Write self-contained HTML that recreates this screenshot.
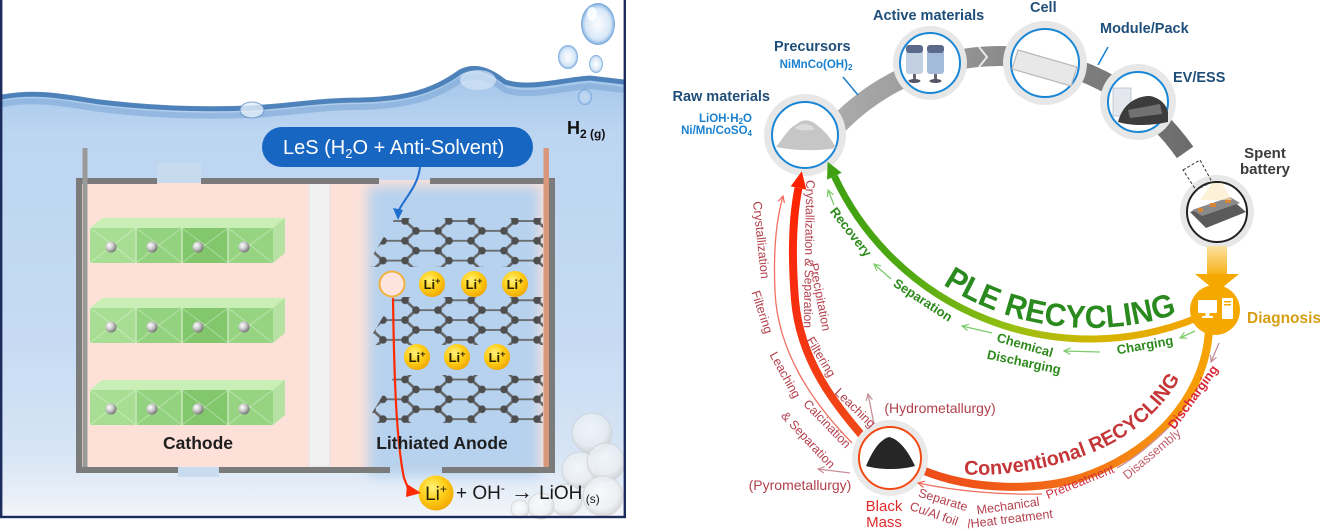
<!DOCTYPE html>
<html><head><meta charset="utf-8"><style>
html,body{margin:0;padding:0;background:#fff;}
svg{display:block;}
</style></head><body>
<svg width="1320" height="531" viewBox="0 0 1320 531" xmlns="http://www.w3.org/2000/svg" font-family="'Liberation Sans', Arial, sans-serif">
<defs>
  <linearGradient id="wg" x1="0" y1="80" x2="0" y2="517" gradientUnits="userSpaceOnUse">
    <stop offset="0" stop-color="#a6c7ea"/>
    <stop offset="0.12" stop-color="#bcd5f1"/>
    <stop offset="0.6" stop-color="#c6dbf3"/>
    <stop offset="0.86" stop-color="#d7e5f5"/>
    <stop offset="1" stop-color="#f3f5f9"/>
  </linearGradient>
  <radialGradient id="ball" cx="0.35" cy="0.35" r="0.7">
    <stop offset="0" stop-color="#ffffff"/>
    <stop offset="0.5" stop-color="#c8c8c8"/>
    <stop offset="1" stop-color="#6e6e6e"/>
  </radialGradient>
  <radialGradient id="li" cx="0.4" cy="0.35" r="0.7">
    <stop offset="0" stop-color="#fff27a"/>
    <stop offset="0.5" stop-color="#ffd01a"/>
    <stop offset="1" stop-color="#f0a400"/>
  </radialGradient>
  <radialGradient id="bub" cx="0.5" cy="0.5" r="0.5">
    <stop offset="0" stop-color="#eaf3fc" stop-opacity="0.3"/>
    <stop offset="0.75" stop-color="#b9d5f2" stop-opacity="0.6"/>
    <stop offset="1" stop-color="#5d97d4" stop-opacity="0.9"/>
  </radialGradient>
  <radialGradient id="wbub" cx="0.45" cy="0.4" r="0.6">
    <stop offset="0" stop-color="#ffffff" stop-opacity="0.85"/>
    <stop offset="0.7" stop-color="#f0f0f0" stop-opacity="0.75"/>
    <stop offset="1" stop-color="#c8c8c8" stop-opacity="0.85"/>
  </radialGradient>
  <radialGradient id="atom" cx="0.4" cy="0.4" r="0.6">
    <stop offset="0" stop-color="#8a8a8a"/>
    <stop offset="1" stop-color="#3c3c3c"/>
  </radialGradient>
  <filter id="blur6" x="-30%" y="-30%" width="160%" height="160%"><feGaussianBlur stdDeviation="6"/></filter>
  <pattern id="hex" patternUnits="userSpaceOnUse" width="66" height="38.1" patternTransform="translate(372,221) scale(1,0.52)">
    <path d="M0,19.05 L11,0 L33,0 L44,19.05 L33,38.1 L11,38.1 Z M44,19.05 L66,19.05" stroke="#666" stroke-width="3.4" fill="none"/>
    <g fill="#4e4e4e">
      <ellipse cx="0" cy="19.05" rx="3.8" ry="7.3"/>
      <ellipse cx="11" cy="0" rx="3.8" ry="7.3"/>
      <ellipse cx="33" cy="0" rx="3.8" ry="7.3"/>
      <ellipse cx="44" cy="19.05" rx="3.8" ry="7.3"/>
      <ellipse cx="33" cy="38.1" rx="3.8" ry="7.3"/>
      <ellipse cx="11" cy="38.1" rx="3.8" ry="7.3"/>
      <ellipse cx="66" cy="19.05" rx="3.8" ry="7.3"/>
    </g>
  </pattern>
  <g id="crow">
    <polygon points="0,10 12,0 195,0 183,10" fill="#c9efb6"/>
    <rect x="0" y="10" width="46" height="35" fill="#a8de94"/>
    <rect x="46" y="10" width="46" height="35" fill="#93d27e"/>
    <rect x="92" y="10" width="46" height="35" fill="#82c76c"/>
    <rect x="138" y="10" width="45" height="35" fill="#96d482"/>
    <g stroke="#ffffff" stroke-opacity="0.35" fill="none" stroke-width="1">
      <polyline points="0,10 23,27 46,10"/><polyline points="0,45 23,27 46,45"/>
      <polyline points="46,10 69,27 92,10"/><polyline points="46,45 69,27 92,45"/>
      <polyline points="92,10 115,27 138,10"/><polyline points="92,45 115,27 138,45"/>
      <polyline points="138,10 160,27 183,10"/><polyline points="138,45 160,27 183,45"/>
    </g>
    <g stroke="#c8e9b8" stroke-width="1.5">
      <line x1="46" y1="10" x2="46" y2="45"/><line x1="92" y1="10" x2="92" y2="45"/><line x1="138" y1="10" x2="138" y2="45"/>
    </g>
    <polygon points="183,10 195,0 195,35 183,45" fill="#b5e2a2"/>
    <circle cx="21" cy="29" r="5.5" fill="url(#ball)"/>
    <circle cx="62" cy="29" r="5.5" fill="url(#ball)"/>
    <circle cx="108" cy="29" r="5.5" fill="url(#ball)"/>
    <circle cx="154" cy="29" r="5.5" fill="url(#ball)"/>
  </g>
  <linearGradient id="band" x1="830" y1="0" x2="1190" y2="0" gradientUnits="userSpaceOnUse">
    <stop offset="0" stop-color="#acacac"/>
    <stop offset="0.5" stop-color="#8a8a8a"/>
    <stop offset="1" stop-color="#6c6c6c"/>
  </linearGradient>
  <linearGradient id="gg" x1="1195" y1="0" x2="830" y2="0" gradientUnits="userSpaceOnUse">
    <stop offset="0" stop-color="#f5a400"/>
    <stop offset="0.25" stop-color="#d6b400"/>
    <stop offset="0.5" stop-color="#98c012"/>
    <stop offset="0.78" stop-color="#52aa12"/>
    <stop offset="1" stop-color="#3ea012"/>
  </linearGradient>
  <linearGradient id="og" x1="1210" y1="330" x2="920" y2="470" gradientUnits="userSpaceOnUse">
    <stop offset="0" stop-color="#f6a600"/>
    <stop offset="0.35" stop-color="#f58a10"/>
    <stop offset="0.7" stop-color="#f26418"/>
    <stop offset="1" stop-color="#ee4a18"/>
  </linearGradient>
  <linearGradient id="rg" x1="0" y1="440" x2="0" y2="170" gradientUnits="userSpaceOnUse">
    <stop offset="0" stop-color="#f04a18"/>
    <stop offset="0.5" stop-color="#f62e10"/>
    <stop offset="1" stop-color="#ff2200"/>
  </linearGradient>
  <linearGradient id="arr" x1="0" y1="245" x2="0" y2="291" gradientUnits="userSpaceOnUse">
    <stop offset="0" stop-color="#fbe3a8"/>
    <stop offset="0.6" stop-color="#f7b520"/>
    <stop offset="1" stop-color="#f5a800"/>
  </linearGradient>
  <marker id="mg" viewBox="0 0 10 10" refX="9" refY="5" markerWidth="8" markerHeight="8" orient="auto" markerUnits="userSpaceOnUse"><path d="M1,1 L9,5 L1,9" fill="none" stroke="#7ccc6c" stroke-width="1.5"/></marker>
  <marker id="mr" viewBox="0 0 10 10" refX="9" refY="5" markerWidth="8" markerHeight="8" orient="auto" markerUnits="userSpaceOnUse"><path d="M1,1 L9,5 L1,9" fill="none" stroke="#ef6a58" stroke-width="1.5"/></marker>
  <marker id="mb" viewBox="0 0 10 10" refX="9" refY="5" markerWidth="8" markerHeight="8" orient="auto" markerUnits="userSpaceOnUse"><path d="M1,1 L9,5 L1,9" fill="none" stroke="#c59098" stroke-width="1.5"/></marker>
  <path id="plePath" d="M934.6,279 A271,271 0 0,0 1191.5,308.3" fill="none"/>
  <path id="convPath" d="M958,474 C1010,478 1065,466 1105,447 C1140,430 1165,405 1182,375" fill="none"/>
</defs>

<!-- ================= LEFT PANEL ================= -->
<rect x="0" y="0" width="626" height="519" fill="#ffffff"/>
<path d="M2,95 C40,88 70,96 100,100 C150,106 200,108 250,106 C290,104 320,98 360,98 C400,97 430,92 460,70 C475,62 490,68 505,80 C530,88 560,78 590,76 L624,80 L624,517 L2,517 Z" fill="url(#wg)"/>
<path d="M2,97 C40,90 70,98 100,102 C150,108 200,110 250,108 C290,106 320,100 360,100 C400,99 430,94 460,72 C475,64 490,70 505,82 C530,90 560,80 590,78 L624,82" stroke="#3d74b2" stroke-width="5" fill="none" opacity="0.85"/>
<path d="M2,104 C40,97 70,105 100,109 C150,115 200,117 250,115 C290,113 320,107 360,107 C400,106 430,101 460,80 C475,72 490,78 505,90 C530,98 560,88 590,86 L624,90" stroke="#7ea8d7" stroke-width="6" fill="none" opacity="0.6"/>
<ellipse cx="478" cy="80" rx="18" ry="10" fill="#d6e6f6" opacity="0.7"/>
<ellipse cx="252" cy="110" rx="12" ry="8" fill="#e4eef9" stroke="#5e8fc7" stroke-width="1" opacity="0.8"/>

<!-- top-right bubbles -->
<ellipse cx="598" cy="24" rx="17" ry="21" fill="url(#bub)"/>
<ellipse cx="592" cy="14" rx="5" ry="7" fill="#ffffff" opacity="0.8"/>
<ellipse cx="568" cy="57" rx="10" ry="12" fill="url(#bub)"/>
<ellipse cx="596" cy="64" rx="7" ry="9" fill="url(#bub)"/>
<ellipse cx="585" cy="97" rx="7" ry="8" fill="url(#bub)"/>

<!-- H2 -->
<text x="567" y="134" font-size="18" font-weight="bold" fill="#111">H<tspan font-size="12" dy="4">2 (g)</tspan></text>

<!-- Cell -->
<rect x="82" y="180" width="468" height="290" fill="#fde1d9"/>
<rect x="368" y="186" width="172" height="290" fill="#b7d2ee" filter="url(#blur6)"/>
<rect x="309" y="183" width="21" height="284" fill="#f0f0f0" stroke="#dcdcdc" stroke-width="0.6"/>
<g fill="#7b7b7b">
  <rect x="76" y="178" width="81" height="6"/>
  <rect x="201" y="178" width="178" height="6"/>
  <rect x="430" y="178" width="125" height="6"/>
  <rect x="76" y="178" width="6" height="295"/>
  <rect x="549" y="178" width="6" height="295"/>
  <rect x="76" y="467" width="102" height="6"/>
  <rect x="219" y="467" width="171" height="6"/>
  <rect x="442" y="467" width="113" height="6"/>
</g>
<rect x="157" y="163" width="44" height="20" fill="#c7daee"/>
<rect x="178" y="467" width="41" height="10" fill="#c9dbee"/>
<rect x="82.5" y="148" width="5" height="319" fill="#9a9a9a"/>
<rect x="543.5" y="148" width="5.5" height="319" fill="#d9977c"/>

<use href="#crow" x="90" y="218"/>
<use href="#crow" x="90" y="298"/>
<use href="#crow" x="90" y="380"/>

<!-- graphene layers -->
<polygon points="395,218 543,218 543,267 366,267" fill="url(#hex)"/>
<polygon points="395,297 543,297 543,345 366,345" fill="url(#hex)"/>
<polygon points="395,375 543,375 543,423 366,423" fill="url(#hex)"/>

<!-- bottom-right white bubbles -->
<g stroke="#cfcfcf" stroke-width="1" opacity="0.75">
  <circle cx="592" cy="433" r="20" fill="url(#wbub)"/>
  <circle cx="580" cy="470" r="18" fill="url(#wbub)"/>
  <circle cx="606" cy="462" r="19" fill="url(#wbub)"/>
  <circle cx="603" cy="496" r="20" fill="url(#wbub)"/>
  <circle cx="566" cy="500" r="16" fill="url(#wbub)"/>
  <circle cx="541" cy="506" r="13" fill="url(#wbub)"/>
  <circle cx="520" cy="509" r="9" fill="url(#wbub)"/>
</g>

<!-- Li ions -->
<circle cx="392" cy="284" r="12.5" fill="#fde4dc" stroke="#f2b140" stroke-width="2"/>
<g fill="url(#li)">
  <circle cx="432" cy="284" r="13"/><circle cx="474" cy="284" r="13"/><circle cx="515" cy="284" r="13"/>
  <circle cx="417" cy="357" r="13"/><circle cx="457" cy="357" r="13"/><circle cx="497" cy="357" r="13"/>
  <circle cx="436" cy="493" r="17.5"/>
</g>
<g font-size="13" font-weight="bold" fill="#2a2200" text-anchor="middle">
  <text x="432" y="289">Li<tspan dy="-5" font-size="9">+</tspan></text>
  <text x="474" y="289">Li<tspan dy="-5" font-size="9">+</tspan></text>
  <text x="515" y="289">Li<tspan dy="-5" font-size="9">+</tspan></text>
  <text x="417" y="362">Li<tspan dy="-5" font-size="9">+</tspan></text>
  <text x="457" y="362">Li<tspan dy="-5" font-size="9">+</tspan></text>
  <text x="497" y="362">Li<tspan dy="-5" font-size="9">+</tspan></text>
  <text x="436" y="500" font-size="19" font-weight="normal">Li<tspan dy="-7" font-size="12">+</tspan></text>
</g>
<text x="456" y="499" font-size="19" fill="#1a1a1a">+ OH<tspan dy="-7" font-size="12">-</tspan><tspan dy="7" font-weight="bold" font-size="22"> → </tspan><tspan>LiOH</tspan><tspan dy="4" font-size="12"> (s)</tspan></text>

<!-- red arrow -->
<path d="M393,298 C394,370 396,440 404,478 L408,488" stroke="#ff2a00" stroke-width="2.2" fill="none"/>
<polygon points="421,493 407,484 406,497" fill="#ff2a00"/>

<text x="198" y="449" font-size="17.5" font-weight="bold" fill="#1e1e1e" text-anchor="middle">Cathode</text>
<text x="442" y="449" font-size="17.5" font-weight="bold" fill="#1e1e1e" text-anchor="middle">Lithiated Anode</text>

<rect x="262" y="127" width="271" height="40" rx="20" fill="#1766c2"/>
<text x="283" y="154" font-size="20" fill="#ffffff">LeS (H<tspan font-size="13" dy="4">2</tspan><tspan dy="-4">O + Anti-Solvent)</tspan></text>
<path d="M420,167 C418,186 405,198 399,210" stroke="#1f6fd0" stroke-width="2" fill="none"/>
<polygon points="398,220 393,208 403,210" fill="#1f6fd0"/>

<rect x="1.2" y="-5" width="623.6" height="522" fill="none" stroke="#1c2c5c" stroke-width="2.4"/>

<!-- ================= RIGHT PANEL ================= -->
<path d="M826.9,136.7 A226,226 0 0,1 1185.1,152.4" stroke="url(#band)" stroke-width="20" fill="none"/>
<polyline points="979,47 987,57 979,67" stroke="#ffffff" stroke-width="2" fill="none" opacity="0.8"/>
<line x1="843" y1="77" x2="858" y2="95" stroke="#1a80d0" stroke-width="1.5"/>
<line x1="1108" y1="47" x2="1098" y2="65" stroke="#1a80d0" stroke-width="1.5"/>

<g fill="#e7e7e7">
  <circle cx="805" cy="135" r="41"/>
  <circle cx="930" cy="63" r="37"/>
  <circle cx="1045" cy="63" r="42"/>
  <circle cx="1138" cy="102" r="38"/>
  <circle cx="1217" cy="212" r="37"/>
</g>
<g fill="#ffffff" stroke="#1a86d6" stroke-width="2">
  <circle cx="805" cy="135" r="33"/>
  <circle cx="930" cy="63" r="30"/>
  <circle cx="1045" cy="63" r="34"/>
  <circle cx="1138" cy="102" r="30"/>
</g>
<circle cx="1217" cy="212" r="30" fill="#ffffff" stroke="#222" stroke-width="2"/>

<path d="M776,147 C782,140 788,128 797,124 C803,118 812,120 818,126 C826,132 832,140 836,148 C820,151 795,151 776,147 Z" fill="#c6c6c6"/>
<path d="M795,128 C802,122 810,123 815,129 C808,131 800,131 795,128 Z" fill="#dcdcdc"/>
<g>
  <rect x="906" y="50" width="17" height="24" rx="3" fill="#c3cfe2"/>
  <rect x="906" y="45" width="17" height="8" rx="3" fill="#5b6a8a"/>
  <rect x="913" y="74" width="3" height="6" fill="#667"/>
  <ellipse cx="914.5" cy="81" rx="6" ry="2" fill="#556"/>
  <rect x="927" y="50" width="17" height="24" rx="3" fill="#a3badb"/>
  <rect x="927" y="45" width="17" height="8" rx="3" fill="#5b6a8a"/>
  <rect x="934" y="74" width="3" height="6" fill="#667"/>
  <ellipse cx="935.5" cy="81" rx="6" ry="2" fill="#556"/>
</g>
<polygon points="1018,50 1077,67 1071,86 1012,69" fill="#e8e8e8" stroke="#b8b8b8" stroke-width="1.2"/>
<rect x="1113" y="88" width="18" height="28" fill="#e4e8ee" stroke="#b8c0cc" stroke-width="0.8"/>
<path d="M1118,122 C1122,106 1134,96 1150,96 C1160,98 1166,104 1168,112 L1168,122 C1150,126 1132,126 1118,122 Z" fill="#3c3c3c"/>
<path d="M1128,110 L1160,104 L1162,114 L1130,118 Z" fill="#888" opacity="0.7"/>
<polygon points="1190,212 1230,198 1246,212 1206,228" fill="#5a5a5a"/>
<polygon points="1192,210 1230,197 1240,203 1202,216" fill="#8a8a8a"/>
<g fill="#d5863a"><rect x="1210" y="203" width="6" height="4"/><rect x="1225" y="199" width="6" height="4"/><rect x="1198" y="208" width="5" height="4"/></g>

<path d="M1200,200 L1212,183 L1222,183 L1232,200 Z" fill="#fbe9c0" opacity="0.6"/>
<polygon points="1183,170 1200,160 1212,182 1196,190" fill="none" stroke="#333" stroke-width="1" stroke-dasharray="3,2"/>
<rect x="1207" y="246" width="20" height="29" fill="url(#arr)"/>
<polygon points="1195,274 1239,274 1217,292" fill="#f5a800"/>

<path d="M1195.6,318.5 A282,282 0 0,1 834.4,176.2" stroke="url(#gg)" stroke-width="7" fill="none"/>
<polygon points="827.6,161.7 841.7,172.8 827.1,179.6" fill="#3ea012"/>
<path d="M1209,330 C1205,400 1150,455 1080,478 C1040,490 975,492 922,470" stroke="url(#og)" stroke-width="8" fill="none"/>
<path d="M866,440 C835,405 800,360 795,300 C791,250 793,215 798.5,188" stroke="url(#rg)" stroke-width="8" fill="none"/>
<polygon points="801.8,171.3 806.3,189.6 790.7,186.4" fill="#ff2200"/>

<circle cx="890" cy="458" r="38" fill="#e9e9e9"/>
<circle cx="890" cy="458" r="31" fill="#ffffff" stroke="#f24a14" stroke-width="2"/>
<path d="M866,466 C872,452 879,440 889,437 C899,439 908,451 915,466 C900,470 880,470 866,466 Z" fill="#262626"/>

<circle cx="1215" cy="310" r="25" fill="#f5a800"/>
<rect x="1198" y="300" width="19" height="13" rx="1" fill="#ffffff"/>
<rect x="1205.5" y="313" width="4" height="3" fill="#ffffff"/>
<rect x="1202" y="316" width="11" height="2" fill="#ffffff"/>
<rect x="1222" y="298" width="11" height="21" rx="1" fill="#ffffff"/>
<rect x="1224" y="301" width="7" height="1.5" fill="#f5a800"/>
<rect x="1224" y="304" width="7" height="1.5" fill="#f5a800"/>

<g stroke="#7ccc6c" stroke-width="1.3" fill="none">
  <path d="M834,205 L828,190" marker-end="url(#mg)"/>
  <path d="M891,279 L874,264" marker-end="url(#mg)"/>
  <path d="M992,333 L962,326" marker-end="url(#mg)"/>
  <path d="M1100,352 L1064,351" marker-end="url(#mg)"/>
  <path d="M1195,331 L1180,338" marker-end="url(#mg)"/>
</g>
<g stroke="#f07060" stroke-width="1.3" fill="none">
  <path d="M852,443 C812,402 778,352 775,292 C773,245 777,218 783,196" marker-end="url(#mr)"/>
  <path d="M1042,494 C1000,495 955,491 918,483" marker-end="url(#mr)"/>
</g>
<g stroke="#c89098" stroke-width="1.3" fill="none">
  <path d="M1219,343 L1211,362" marker-end="url(#mb)"/>
  <path d="M1168,428 C1150,445 1135,458 1117,468"/>
  <path d="M874,424 L868,394" marker-end="url(#mb)"/>
  <path d="M850,473 L818,469" marker-end="url(#mb)"/>
</g>

<g font-weight="bold" fill="#1f4e79" font-size="14.5">
  <text x="873" y="20">Active materials</text>
  <text x="1030" y="12">Cell</text>
  <text x="1100" y="33">Module/Pack</text>
  <text x="1173" y="82">EV/ESS</text>
  <text x="774" y="51">Precursors</text>
  <text x="770" y="101" text-anchor="end">Raw materials</text>
</g>
<g font-weight="bold" fill="#1a80d0" font-size="11.5">
  <text x="816" y="68" text-anchor="middle">NiMnCo(OH)<tspan font-size="8" dy="2">2</tspan></text>
  <text x="752" y="122" text-anchor="end">LiOH·H<tspan font-size="8" dy="2">2</tspan><tspan dy="-2">O</tspan></text>
  <text x="752" y="134" text-anchor="end">Ni/Mn/CoSO<tspan font-size="8" dy="2">4</tspan></text>
</g>
<g font-weight="bold" fill="#3c3c3c" font-size="15" text-anchor="middle">
  <text x="1265" y="158">Spent</text>
  <text x="1265" y="174">battery</text>
</g>
<text x="1247" y="323" font-size="15.5" font-weight="bold" fill="#d69e12">Diagnosis</text>

<text font-size="32" font-weight="bold" fill="#2a8a1e"><textPath href="#plePath" startOffset="10" textLength="244" lengthAdjust="spacingAndGlyphs">PLE&#160;RECYCLING</textPath></text>
<text font-size="20" font-weight="bold" fill="#c53638"><textPath href="#convPath" startOffset="6" textLength="248" lengthAdjust="spacingAndGlyphs">Conventional RECYCLING</textPath></text>

<g font-size="13" font-weight="bold" fill="#2e8a1c" text-anchor="middle" dominant-baseline="central">
  <text transform="translate(851,232) rotate(52)">Recovery</text>
  <text transform="translate(923,300) rotate(33)">Separation</text>
  <text transform="translate(1025,345) rotate(16)">Chemical</text>
  <text transform="translate(1024,362) rotate(12)">Discharging</text>
  <text transform="translate(1145,345) rotate(-10)">Charging</text>
</g>

<g font-size="12.5" fill="#b3404c" text-anchor="middle" dominant-baseline="central">
  <text transform="translate(761,240) rotate(84)">Crystallization</text>
  <text transform="translate(762,312) rotate(72)">Filtering</text>
  <text transform="translate(785,375) rotate(61)">Leaching</text>
  <text transform="translate(827,424) rotate(46)">Calcination</text>
  <text transform="translate(808,440) rotate(47)">&amp; Separation</text>
  <text transform="translate(809,254) rotate(91)" textLength="148" lengthAdjust="spacingAndGlyphs">Crystallization &amp; Separation</text>
  <text transform="translate(820,297) rotate(79)">Precipitation</text>
  <text transform="translate(821,357) rotate(59)">Filtering</text>
  <text transform="translate(855,408) rotate(44)">Leaching</text>
  <text transform="translate(943,500) rotate(17)">Separate</text>
  <text transform="translate(934,514) rotate(19)">Cu/Al foil</text>
  <text transform="translate(1008,506) rotate(-8)">Mechanical</text>
  <text transform="translate(1010,519) rotate(-7)">/Heat treatment</text>
  <text transform="translate(1080,482) rotate(-22)" fill="#d03040">Pretreatment</text>
  <text transform="translate(1152,454) rotate(-40)" fill="#c06068">Disassembly</text>
  <text transform="translate(1193,397) rotate(-54)" fill="#d82838" font-weight="bold" font-size="13">Discharging</text>
</g>
<g font-size="14" fill="#b0404a" text-anchor="middle">
  <text x="940" y="413">(Hydrometallurgy)</text>
  <text x="800" y="490">(Pyrometallurgy)</text>
</g>
<g font-size="15" fill="#e02a2a" text-anchor="middle">
  <text x="884" y="511">Black</text>
  <text x="884" y="527">Mass</text>
</g>
</svg>
</body></html>
